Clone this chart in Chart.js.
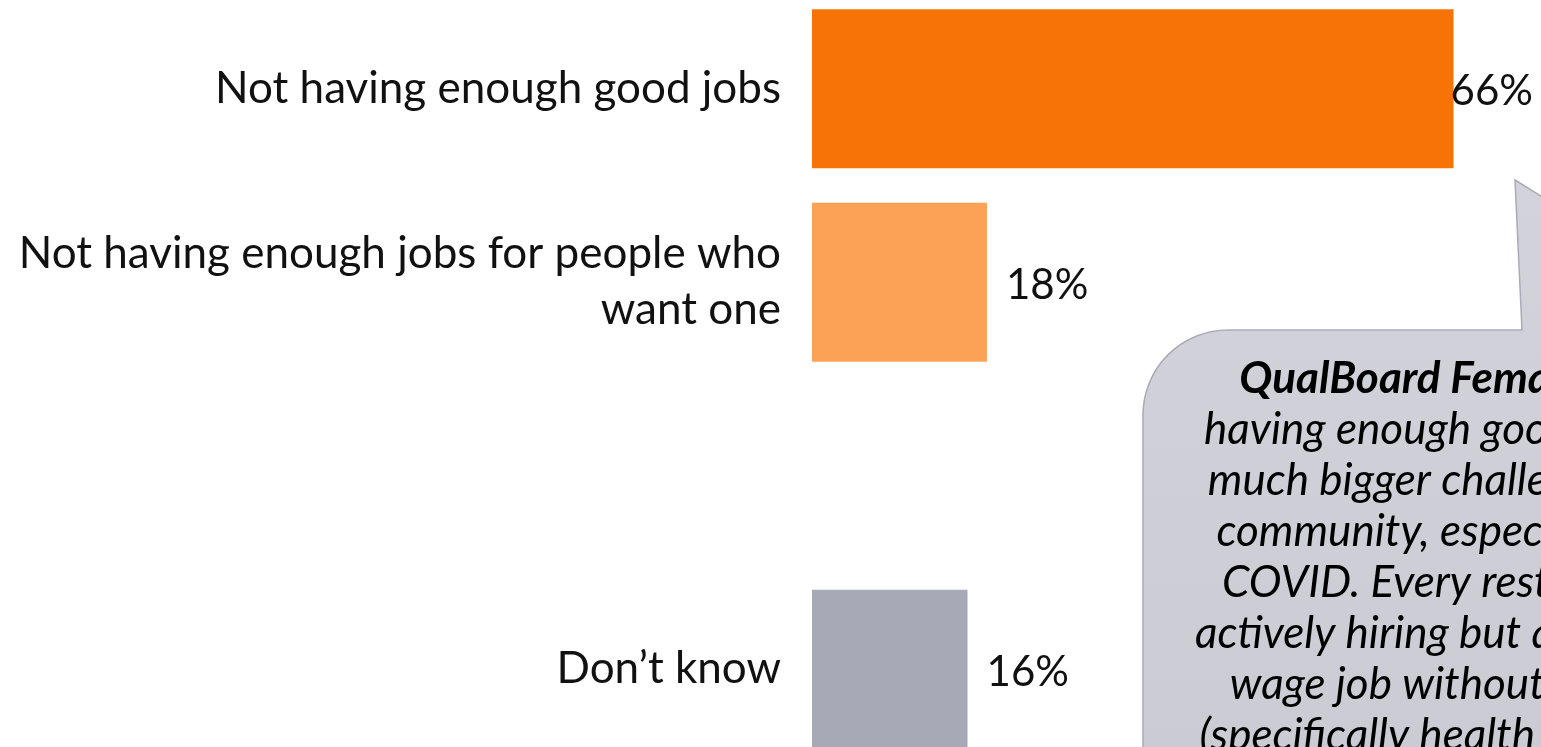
<!DOCTYPE html>
<html>
<head>
<meta charset="utf-8">
<script src="https://cdn.jsdelivr.net/npm/chart.js@4.4.1/dist/chart.umd.min.js"></script>
<style>
  html, body { margin: 0; padding: 0; background: #fff; overflow: hidden; }
  #wrap { position: absolute; left: 0; top: -8px; width: 1541px; height: 774px; }
</style>
</head>
<body>
<div id="wrap"><canvas id="chart"></canvas></div>
<script>
// survey answers (third row left blank on purpose)
const categories = [
  "Not having enough good jobs",
  ["Not having enough jobs for people who", "want one"],
  "",
  "Don’t know",
];
const shares = [66, 18, null, 16];
const barColors = ["#F87306", "#FCA256", "#FFFFFF", "#A8A9B6"];

// quote bubble: [bold part, italic part] per line
const quoteLines = [
  ["QualBoard Females:", " Not"],
  ["", "having enough good jobs is a"],
  ["", "much bigger challenge in my"],
  ["", "community, especially after"],
  ["", "COVID. Every restaurant is"],
  ["", "actively hiring but a minimum"],
  ["", "wage job without benefits"],
  ["", "(specifically health insurance)"],
];

const FONT = "Lato";
const TEXT = "#111111";

const valueLabels = {
  id: "valueLabels",
  afterDatasetsDraw(chart) {
    const ctx = chart.ctx;
    const meta = chart.getDatasetMeta(0);
    ctx.save();
    ctx.font = `42px ${FONT}`;
    ctx.fillStyle = TEXT;
    ctx.textBaseline = "middle";
    ctx.textAlign = "left";
    meta.data.forEach((bar, i) => {
      if (shares[i] == null) return;
      const txt = shares[i] + "%";
      const w = ctx.measureText(txt).width;
      let x = bar.x + 19;
      // keep the label inside the plot
      if (x + w > chart.chartArea.right - 8) x = chart.chartArea.right - 8 - w;
      ctx.fillText(txt, x, bar.y + 3);
    });
    ctx.restore();
  }
};

const quoteBubble = {
  id: "quoteBubble",
  afterDraw(chart) {
    const ctx = chart.ctx;
    const left = 1143, top = 338, r = 85;
    const right = 1760, bottom = 1000;
    ctx.save();
    ctx.beginPath();
    ctx.moveTo(left, top + r);
    ctx.arcTo(left, top, left + r, top, r);
    ctx.lineTo(1522, top);
    ctx.lineTo(1515, 188);
    ctx.lineTo(1680, 290);
    ctx.lineTo(1700, top);
    ctx.lineTo(right, top);
    ctx.lineTo(right, bottom);
    ctx.lineTo(left, bottom);
    ctx.closePath();
    const g = ctx.createLinearGradient(0, 188, 0, 774);
    g.addColorStop(0, "#D3D4DB");
    g.addColorStop(1, "#CACBD3");
    ctx.fillStyle = g;
    ctx.fill();
    ctx.lineWidth = 1.5;
    ctx.strokeStyle = "#A9ABB9";
    ctx.stroke();

    const cx = 1465;
    const lineH = 51;
    const bold = `italic bold 44px ${FONT}`;
    const ital = `italic 44px ${FONT}`;
    ctx.fillStyle = "#000";
    ctx.textBaseline = "alphabetic";
    ctx.textAlign = "left";
    quoteLines.forEach(([b, t], i) => {
      ctx.font = bold;
      const wb = ctx.measureText(b).width;
      ctx.font = ital;
      const wt = ctx.measureText(t).width;
      const x = cx - (wb + wt) / 2;
      const y = 401 + i * lineH;
      ctx.font = bold;
      ctx.fillText(b, x, y);
      ctx.font = ital;
      ctx.fillText(t, x + wb, y);
    });
    ctx.restore();
  }
};

new Chart(document.getElementById("chart"), {
  type: "bar",
  data: {
    labels: categories,
    datasets: [{
      data: shares,
      backgroundColor: barColors,
      borderWidth: 0,
      categoryPercentage: 1,
      barPercentage: 0.822,
    }]
  },
  options: {
    indexAxis: "y",
    animation: false,
    responsive: true,
    maintainAspectRatio: false,
    layout: { padding: 0 },
    plugins: {
      legend: { display: false },
      tooltip: { enabled: false },
    },
    scales: {
      x: { min: 0, max: 75, display: false },
      y: {
        grid: { display: false, drawTicks: false },
        border: { display: false },
        ticks: {
          padding: 31,
          color: TEXT,
          font: { family: FONT, size: 44, lineHeight: 1.27 },
        },
        afterFit: (scale) => {
          // label column is fixed; bars use the full height
          scale.width = 812;
          scale.paddingTop = 0;
          scale.paddingBottom = 0;
        },
      }
    }
  },
  plugins: [valueLabels, quoteBubble]
});
</script>
</body>
</html>
